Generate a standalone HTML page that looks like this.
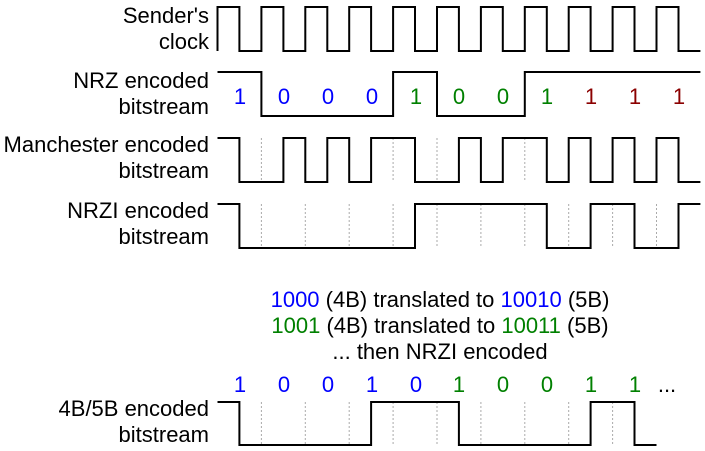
<!DOCTYPE html>
<html><head><meta charset="utf-8"><style>
html,body{margin:0;padding:0;background:#fff;}
svg{display:block;}
text{font-family:"Liberation Sans",Arial,sans-serif;font-size:22px;}
</style></head><body>
<svg id="s" width="705" height="451" viewBox="0 0 705 451" xmlns="http://www.w3.org/2000/svg">
<g text-anchor="end" fill="#000">
<text x="209" y="23">Sender's</text>
<text x="209" y="49">clock</text>
<text x="209" y="88">NRZ encoded</text>
<text x="209" y="114">bitstream</text>
<text x="209" y="152">Manchester encoded</text>
<text x="209" y="178">bitstream</text>
<text x="209" y="218">NRZI encoded</text>
<text x="209" y="244">bitstream</text>
<text x="209" y="416">4B/5B encoded</text>
<text x="209" y="442">bitstream</text>
</g>
<g text-anchor="middle">
<text x="240" y="104" fill="#0000ff">1</text>
<text x="284" y="104" fill="#0000ff">0</text>
<text x="328" y="104" fill="#0000ff">0</text>
<text x="372" y="104" fill="#0000ff">0</text>
<text x="416" y="104" fill="#008000">1</text>
<text x="459" y="104" fill="#008000">0</text>
<text x="503" y="104" fill="#008000">0</text>
<text x="547" y="104" fill="#008000">1</text>
<text x="591" y="104" fill="#8b0000">1</text>
<text x="635" y="104" fill="#8b0000">1</text>
<text x="679" y="104" fill="#8b0000">1</text>

<text x="240" y="392" fill="#0000ff">1</text>
<text x="284" y="392" fill="#0000ff">0</text>
<text x="328" y="392" fill="#0000ff">0</text>
<text x="372" y="392" fill="#0000ff">1</text>
<text x="416" y="392" fill="#0000ff">0</text>
<text x="459" y="392" fill="#008000">1</text>
<text x="503" y="392" fill="#008000">0</text>
<text x="547" y="392" fill="#008000">0</text>
<text x="591" y="392" fill="#008000">1</text>
<text x="635" y="392" fill="#008000">1</text>
<text x="667" y="392" fill="#000">...</text>

<text x="440" y="307"><tspan fill="#0000ff">1000</tspan> (4B) translated to <tspan fill="#0000ff">10010</tspan> (5B)</text>
<text x="440" y="333"><tspan fill="#008000">1001</tspan> (4B) translated to <tspan fill="#008000">10011</tspan> (5B)</text>
<text x="440" y="359">... then NRZI encoded</text>
</g>
<g id="w" fill="none" stroke="#000" stroke-width="2"></g>
</svg>
<script>
(function(){
var P=43.9,X0=217.5,ns="http://www.w3.org/2000/svg",s=document.getElementById('s'),w=document.getElementById('w');
function dash(yt,yb,n){for(var k=1;k<=n;k++){var x=X0+P*k,l=document.createElementNS(ns,'line');l.setAttribute('x1',x);l.setAttribute('x2',x);l.setAttribute('y1',yt);l.setAttribute('y2',yb);l.setAttribute('stroke','#aaa');l.setAttribute('stroke-width','1');l.setAttribute('stroke-dasharray','2,2');s.insertBefore(l,w);}}
function wave(levels,yt,yb,startLow){var h=P/2,d='',y0=levels[0]?yt:yb;
 if(startLow){d='M'+X0+','+yb+' V'+y0;}else{d='M'+X0+','+y0;}
 var cur=levels[0];
 for(var i=1;i<levels.length;i++){if(levels[i]!=cur){var x=X0+h*i;d+=' H'+x.toFixed(1)+' V'+(levels[i]?yt:yb);cur=levels[i];}}
 d+=' H'+(X0+h*levels.length).toFixed(1);
 var p=document.createElementNS(ns,'path');p.setAttribute('d',d);w.appendChild(p);}
function bits2half(b){var r=[];for(var i=0;i<b.length;i++){r.push(b[i],b[i]);}return r;}
function nrzi(b){var r=[],lv=1;b.forEach(function(x){r.push(lv);if(x)lv=1-lv;r.push(lv);});return r;}
var c=[];for(var i=0;i<11;i++)c.push(1,0);wave(c,7,51,true);
wave(bits2half([1,0,0,0,1,0,0,1,1,1,1]),72,116,false);
dash(138,182,10);
var bits=[1,0,0,0,1,0,0,1,1,1,1],m=[];bits.forEach(function(b){if(b)m.push(1,0);else m.push(0,1);});
wave(m,138,182,false);
dash(204,248,10);
wave(nrzi(bits),204,248,false);
dash(402,445,9);
wave(nrzi([1,0,0,1,0,1,0,0,1,1]),402,445,false);
})();
</script>
</body></html>
